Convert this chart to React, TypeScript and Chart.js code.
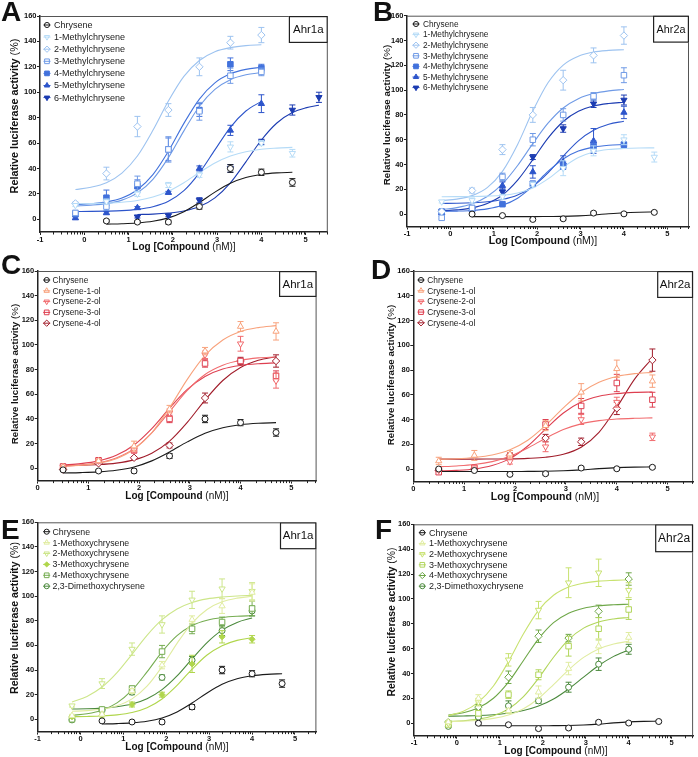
import React, { useEffect, useRef } from 'react';
import { Chart, registerables } from 'chart.js';
import { drawPoint } from 'chart.js/helpers';

Chart.register(...registerables);

const FONT = '"Liberation Sans", Arial, Helvetica, sans-serif';
const _ = null;

// ---------- shared x grids / ticks ----------
const DOSE = [-0.2, 0.5, 1.2, 1.9, 2.6, 3.3, 4.0, 4.7, 5.3];
const FIT_X = [-0.2, 0.15, 0.5, 0.85, 1.2, 1.55, 1.9, 2.25, 2.6, 2.95, 3.3, 3.65, 4.0, 4.35, 4.7, 5.0, 5.3];
const X_TICKS_WIDE = [-1, 0, 1, 2, 3, 4, 5];
const X_TICKS_NARROW = [0, 1, 2, 3, 4, 5];
const Y_TICKS = [0, 20, 40, 60, 80, 100, 120, 140, 160];

// ---------- Chrysene (Ahr1a: A, C, E) ----------
const chr1Y = [_, -1.3, -2.2, -2.2, 10, 40, 37, 29];
const chr1Err = [_, 1, 1, 1.5, 2, 3, 2.5, 3];
const chr1Fit = [_, _, -3.8, -3.5, -2.9, -1.6, 1.1, 6.0, 13.2, 21.4, 28.4, 32.9, 35.3, 36.5, 37.0];
// ---------- Chrysene (Ahr2a: B, D, F) ----------
const chr2Y = [_, 0, -1.2, -4.3, -3.8, 0.8, 0.2, 1.4];
const chr2Err = [_, 0.8, 0.8, 1, 1, 1, 1, 1];
const chr2Fit = [_, _, -2.0, -2.0, -2.0, -2.0, -2.0, -1.9, -1.8, -1.4, -0.7, 0.3, 1.1, 1.5, 1.7];

// ---------- Panel A (methylchrysenes, Ahr1a) ----------
const aM1Y = [11, 14, 20, 27, 35, 57, 60, 52];
const aM1Err = [1, 2, 2, 2, 2, 4, 2, 3];
const aM1Fit = [12.2, 12.3, 12.7, 13.4, 14.8, 17.5, 22.1, 28.8, 36.8, 44.3, 49.8, 53.2, 55.1, 56.0, 56.6];
const aM2Y = [12.5, 36, 73, 86, 120, 139, 145];
const aM2Err = [1, 5, 8, 5, 7, 5, 6];
const aM2Fit = [23.4, 25.2, 28.8, 36.4, 49.8, 70.0, 93.1, 112.5, 125.0, 131.9, 135.1, 136.7, 137.4];
const aM3Y = [5, 10, 28, 55, 85, 113, 116];
const aM3Err = [2, 3, 6, 10, 7, 6, 3];
const aM3Fit = [10.5, 11.1, 12.3, 15.1, 20.8, 31.5, 48.5, 69.6, 89.0, 102.3, 109.9, 113.7, 115.5];
const aM4Y = [4, 17, 26, 55, 86, 122, 119];
const aM4Err = [1, 6, 5, 9, 5, 5, 3];
const aM4Fit = [11.6, 12.2, 13.7, 16.8, 23.3, 35.2, 53.6, 75.5, 94.6, 107.4, 114.5, 118.0, 119.7];
const aM5Y = [1, 5, 9, 21, 40, 70, 91];
const aM5Err = [1, 1, 1, 1, 2, 4, 7];
const aM5Fit = [6.1, 6.2, 6.4, 6.8, 7.8, 9.9, 14.2, 22.5, 36.5, 54.6, 72.4, 85.2, 92.8];
const aM6Y = [_, _, 2, 3, 15, 40, 61, 86, 96];
const aM6Err = [_, _, 1, 1, 2, 3, 2, 4, 4];
const aM6Fit = [_, _, _, _, 3.8, 4.1, 4.9, 6.5, 10.0, 16.9, 28.7, 45.2, 62.4, 75.8, 84.0, 87.7, 89.8];

// ---------- Panel B (methylchrysenes, Ahr2a) ----------
const bM1Y = [10, 11, 14, 24, 37, 51, 60, 46];
const bM1Err = [1, 2, 2, 2, 6, 4, 4, 4];
const bM1Fit = [14.0, 14.1, 14.2, 14.5, 15.2, 17.0, 21.1, 28.4, 37.8, 45.6, 50.1, 52.1, 52.9, 53.3, 53.4];
const bM2Y = [2, 19, 52, 80, 108, 128, 144];
const bM2Err = [1, 2, 4, 6, 8, 6, 7];
const bM2Fit = [10.9, 12.1, 14.9, 21.4, 34.5, 56.2, 83.1, 105.9, 120.2, 127.3, 130.7, 132.0, 132.6];
const bM3Y = [-3, 5, 30, 60, 80, 95, 112];
const bM3Err = [1, 2, 3, 5, 5, 3, 6];
const bM3Fit = [3.6, 5.2, 8.3, 14.2, 24.3, 39.2, 56.8, 73.3, 85.6, 93.1, 97.2, 99.4, 100.5];
const bM4Y = [2, 4, 8, 24.5, 39, 55, 56];
const bM4Err = [1, 1, 1, 2, 3, 4, 2];
const bM4Fit = [2.2, 2.4, 2.9, 4.2, 7.1, 12.8, 22.5, 34.4, 44.5, 50.8, 54.0, 55.5, 56.1];
const bM5Y = [1, 4, 23, 34, 42, 59, 82];
const bM5Err = [1, 1, 3, 5, 5, 10, 5];
const bM5Fit = [8.6, 8.8, 9.2, 10.0, 11.8, 15.4, 22.3, 33.2, 46.7, 59.1, 67.6, 72.5, 74.9];
const bM6Y = [2, 3.5, 18, 46, 69, 89, 92];
const bM6Err = [1, 1, 3, 2, 3, 3, 4];
const bM6Fit = [2.6, 3.4, 5.0, 8.6, 15.4, 27.4, 43.9, 61.3, 74.7, 82.9, 87.2, 89.2, 90.2];

// ---------- Panel C (chrysenols, Ahr1a) ----------
const cO1Y = [_, 1, 6, 18, 48, 95, 115, 111];
const cO1Err = [_, 1, 1, 4, 3, 3, 4, 7];
const cO1Fit = [_, _, 1.6, 2.4, 4.2, 7.8, 15.4, 28.8, 49.0, 72.1, 91.5, 104.0, 110.9, 114.1, 115.7];
const cO2Y = [_, 1, 6, 15, 45, 92, 101, 71];
const cO2Err = [_, 1, 1, 2, 3, 3, 6, 6];
const cO2Fit = [_, _, 1.7, 2.6, 4.4, 8.4, 15.9, 28.8, 46.0, 63.2, 76.1, 83.6, 87.6, 89.5, 90.3];
const cO3Y = [_, 1.5, 6.5, 14.5, 40, 85, 87, 75];
const cO3Err = [_, 1, 1.5, 2, 3, 3, 2, 4];
const cO3Fit = [_, _, 2.8, 3.8, 6.0, 10.5, 18.9, 32.2, 48.8, 64.0, 74.5, 80.5, 83.4, 84.8, 85.5];
const cO4Y = [_, -1, 4, 8.5, 18.5, 57, 87, 87];
const cO4Err = [_, 1, 1, 1, 2, 4, 3, 5];
const cO4Fit = [_, _, 2.2, 2.5, 3.0, 4.2, 6.8, 12.2, 22.0, 37.2, 55.3, 71.2, 81.7, 87.6, 90.5];

// ---------- Panel D (chrysenols, Ahr2a) ----------
const dO1Y = [_, 6.5, 11, 12, 35, 62, 81, 71];
const dO1Err = [_, 3, 4, 3, 4, 7, 7, 5];
const dO1Fit = [_, _, 7.9, 8.3, 9.3, 11.3, 15.5, 23.2, 35.2, 49.4, 61.8, 70.1, 74.8, 77.1, 78.1];
const dO2Y = [_, -1, 1, 6, 18, 40, 54, 26];
const dO2Err = [_, 1, 1, 2, 4, 4, 4, 3];
const dO2Fit = [_, _, 1.9, 2.5, 3.6, 6.0, 10.3, 17.0, 24.9, 31.9, 36.5, 39.1, 40.4, 41.0, 41.3];
const dO3Y = [_, -2.5, 1, 10, 36, 51, 69.5, 56];
const dO3Err = [_, 2, 1, 2, 4, 6, 7, 6];
const dO3Fit = [_, _, -1.6, -1.1, 0.0, 2.8, 8.4, 18.6, 32.3, 45.3, 54.1, 58.8, 60.9, 61.9, 62.2];
const dO4Y = [_, -1, 0, 11, 25, 22, 49, 88];
const dO4Err = [_, 1, 1, 2, 3, 3, 5, 9];
const dO4Fit = [_, _, 8.0, 8.0, 8.0, 8.1, 8.2, 8.6, 9.5, 11.9, 17.6, 29.7, 49.8, 72.6, 89.5];

// ---------- Panel E (methoxychrysenes, Ahr1a) ----------
const eX1Y = [3, 4, 23, 44, 81, 92, 103];
const eX1Err = [1, 1, 2, 3, 3, 6, 7];
const eX1Fit = [6.5, 7.0, 8.3, 11.0, 16.6, 26.9, 42.8, 61.7, 78.2, 89.2, 95.4, 98.4, 99.9];
const eX2Y = [11, 29, 57, 77, 97, 106, 104];
const eX2Err = [1, 4, 5, 7, 7, 8, 7];
const eX2Fit = [14.1, 18.6, 26.2, 37.9, 52.8, 68.2, 80.9, 89.6, 94.9, 97.8, 99.3, 100.2, 100.6];
const eX3Y = [2, 3, 12, 20, 45, 67, 65];
const eX3Err = [1, 1, 2, 2, 7, 5, 3];
const eX3Fit = [2.1, 2.3, 2.7, 3.6, 5.5, 9.4, 16.5, 27.5, 40.7, 52.2, 59.8, 64.1, 66.2];
const eX4Y = [0, 8, 25, 55, 73.5, 79, 90];
const eX4Err = [1, 1, 2, 5, 4, 4, 6];
const eX4Fit = [3.2, 4.5, 7.4, 13.3, 23.6, 38.5, 54.8, 67.9, 76.2, 80.5, 82.7, 83.7, 84.1];
const eX5Y = [-0.5, 7.5, 22, 34, 48, 72, 88];
const eX5Err = [1, 1, 2, 2, 3, 4, 4];
const eX5Fit = [8.3, 8.5, 9.1, 10.2, 12.4, 16.7, 24.1, 35.2, 49.0, 62.3, 72.4, 78.7, 82.3];

// ---------- Panel F (methoxychrysenes, Ahr2a) ----------
const fX1Y = [1, 20, 10, 25, 44, 62, 69];
const fX1Err = [1, 3, 2, 5, 5, 6, 4];
const fX1Fit = [1.3, 1.7, 2.4, 3.9, 6.6, 11.7, 19.9, 31.1, 43.0, 53.0, 59.8, 63.8, 65.9];
const fX2Y = [0, 17, 51, 91, 113, 121, 107];
const fX2Err = [1, 3, 5, 7, 12, 11, 6];
const fX2Fit = [6.1, 9.6, 17.0, 30.0, 49.6, 72.0, 90.8, 102.9, 109.5, 112.7, 114.3, 114.9, 115.3];
const fX3Y = [-1, 8, 23, 39, 62, 76, 91.5];
const fX3Err = [1, 2, 3, 4, 8, 9, 8];
const fX3Fit = [1.5, 2.0, 3.3, 6.0, 11.5, 21.4, 36.2, 53.1, 67.3, 76.5, 81.5, 83.9, 85.1];
const fX4Y = [1, 13, 37, 70, 68.5, 90, 116];
const fX4Err = [1, 2, 5, 5, 3, 5, 5];
const fX4Fit = [6.6, 8.5, 12.4, 20.1, 33.1, 50.5, 67.9, 80.9, 88.5, 92.5, 94.5, 95.3, 95.7];
const fX5Y = [-2.5, 5, 14, 18, 29, 47.5, 59.5];
const fX5Err = [1, 1, 4, 2, 4, 5, 4];
const fX5Fit = [5.7, 5.9, 6.2, 6.9, 8.0, 10.2, 13.8, 19.5, 27.6, 37.1, 46.4, 53.8, 59.0];

// ---------- markers ----------
type Marker = { style: string; rot: number; r: number };
const CIRCLE: Marker = { style: 'circle', rot: 0, r: 3 };
const TRI_UP: Marker = { style: 'triangle', rot: 0, r: 3.6 };
const TRI_DN: Marker = { style: 'triangle', rot: 180, r: 3.6 };
const SQUARE: Marker = { style: 'rect', rot: 0, r: 3.9 };
const DIAMOND: Marker = { style: 'rectRot', rot: 0, r: 3.7 };
const SMALL_DIAMOND: Marker = { style: 'rectRot', rot: 0, r: 3.0 };

type Series = { label: string; color: string; marker: Marker; filled: boolean; y: any[]; err: any[]; fit: any[] };
const BLACK = '#1a1a1a';
const S = (label: string, color: string, marker: Marker, filled: boolean, y: any[], err: any[], fit: any[]): Series =>
  ({ label, color, marker, filled, y, err, fit });

const chrysene1 = S('Chrysene', BLACK, CIRCLE, false, chr1Y, chr1Err, chr1Fit);
const chrysene2 = S('Chrysene', BLACK, CIRCLE, false, chr2Y, chr2Err, chr2Fit);

const BLUES = ['#b5dbf7', '#9dc3f0', '#6f9ae6', '#4272dc', '#2d55cb', '#1c3cb2'];
const REDS = ['#f8a27c', '#f16b6e', '#de3f50', '#a11d2b'];
const GREENS_E = ['#e0eca0', '#cde68a', '#b0d64c', '#76ad52', '#4a893c'];
const GREENS_F = ['#e0eca0', '#c8e270', '#b2d65c', '#6ea748', '#4a893c'];

const seriesA = [
  chrysene1,
  S('1-Methylchrysene', BLUES[0], TRI_DN, false, aM1Y, aM1Err, aM1Fit),
  S('2-Methylchrysene', BLUES[1], DIAMOND, false, aM2Y, aM2Err, aM2Fit),
  S('3-Methylchrysene', BLUES[2], SQUARE, false, aM3Y, aM3Err, aM3Fit),
  S('4-Methylchrysene', BLUES[3], SQUARE, true, aM4Y, aM4Err, aM4Fit),
  S('5-Methylchrysene', BLUES[4], TRI_UP, true, aM5Y, aM5Err, aM5Fit),
  S('6-Methylchrysene', BLUES[5], TRI_DN, true, aM6Y, aM6Err, aM6Fit),
];
const seriesB = [
  chrysene2,
  S('1-Methylchrysene', BLUES[0], TRI_DN, false, bM1Y, bM1Err, bM1Fit),
  S('2-Methylchrysene', BLUES[1], DIAMOND, false, bM2Y, bM2Err, bM2Fit),
  S('3-Methylchrysene', BLUES[2], SQUARE, false, bM3Y, bM3Err, bM3Fit),
  S('4-Methylchrysene', BLUES[3], SQUARE, true, bM4Y, bM4Err, bM4Fit),
  S('5-Methylchrysene', BLUES[4], TRI_UP, true, bM5Y, bM5Err, bM5Fit),
  S('6-Methylchrysene', BLUES[5], TRI_DN, true, bM6Y, bM6Err, bM6Fit),
];
const seriesC = [
  chrysene1,
  S('Crysene-1-ol', REDS[0], TRI_UP, false, cO1Y, cO1Err, cO1Fit),
  S('Crysene-2-ol', REDS[1], TRI_DN, false, cO2Y, cO2Err, cO2Fit),
  S('Crysene-3-ol', REDS[2], SQUARE, false, cO3Y, cO3Err, cO3Fit),
  S('Crysene-4-ol', REDS[3], DIAMOND, false, cO4Y, cO4Err, cO4Fit),
];
const seriesD = [
  chrysene2,
  S('Crysene-1-ol', REDS[0], TRI_UP, false, dO1Y, dO1Err, dO1Fit),
  S('Crysene-2-ol', REDS[1], TRI_DN, false, dO2Y, dO2Err, dO2Fit),
  S('Crysene-3-ol', REDS[2], SQUARE, false, dO3Y, dO3Err, dO3Fit),
  S('Crysene-4-ol', REDS[3], DIAMOND, false, dO4Y, dO4Err, dO4Fit),
];
const seriesE = [
  chrysene1,
  S('1-Methoxychrysene', GREENS_E[0], TRI_UP, false, eX1Y, eX1Err, eX1Fit),
  S('2-Methoxychrysene', GREENS_E[1], TRI_DN, false, eX2Y, eX2Err, eX2Fit),
  S('3-Methoxychrysene', GREENS_E[2], SMALL_DIAMOND, true, eX3Y, eX3Err, eX3Fit),
  S('4-Methoxychrysene', GREENS_E[3], SQUARE, false, eX4Y, eX4Err, eX4Fit),
  S('2,3-Dimethoxychrysene', GREENS_E[4], CIRCLE, false, eX5Y, eX5Err, eX5Fit),
];
const seriesF = [
  chrysene2,
  S('1-Methoxychrysene', GREENS_F[0], TRI_UP, false, fX1Y, fX1Err, fX1Fit),
  S('2-Methoxychrysene', GREENS_F[1], TRI_DN, false, fX2Y, fX2Err, fX2Fit),
  S('3-Methoxychrysene', GREENS_F[2], SQUARE, false, fX3Y, fX3Err, fX3Fit),
  S('4-Methoxychrysene', GREENS_F[3], DIAMOND, false, fX4Y, fX4Err, fX4Fit),
  S('2,3-Dimethoxychrysene', GREENS_F[4], CIRCLE, false, fX5Y, fX5Err, fX5Fit),
];

// ---------- panel layouts ----------
type PanelCfg = {
  left: number; top: number; w: number; h: number;
  plot: { l: number; t: number; r: number; b: number };
  xMin: number; xTicks: number[];
  series: Series[];
  box: string; boxFont: number; boxW: number; boxH: number;
  leg: { sx: number; tx: number; y0: number; dy: number; font: number };
  yTitle: { x: number; y: number; font: number };
  xTitle: { x: number; y: number; font: number };
};

const PANELS: PanelCfg[] = [
  {
    left: 0, top: 0, w: 349, h: 258, plot: { l: 40, t: 16, r: 327.8, b: 232 },
    xMin: -1, xTicks: X_TICKS_WIDE, series: seriesA,
    box: 'Ahr1a', boxFont: 11.5, boxW: 39, boxH: 27,
    leg: { sx: 47, tx: 54, y0: 25, dy: 12.1, font: 9 },
    yTitle: { x: 15, y: 116, font: 10.8 }, xTitle: { x: 184, y: 247.5, font: 10 },
  },
  {
    left: 349, top: 0, w: 349, h: 258, plot: { l: 58, t: 15.7, r: 340, b: 226.5 },
    xMin: -1, xTicks: X_TICKS_WIDE, series: seriesB,
    box: 'Ahr2a', boxFont: 10.8, boxW: 36, boxH: 27,
    leg: { sx: 67, tx: 74, y0: 24, dy: 10.6, font: 8.3 },
    yTitle: { x: 38.3, y: 115, font: 9.8 }, xTitle: { x: 194, y: 241, font: 10.5 },
  },
  {
    left: 0, top: 250, w: 349, h: 258, plot: { l: 37.7, t: 21, r: 316.6, b: 230.6 },
    xMin: 0, xTicks: X_TICKS_NARROW, series: seriesC,
    box: 'Ahr1a', boxFont: 11.5, boxW: 37.6, boxH: 26,
    leg: { sx: 46.7, tx: 52.5, y0: 30, dy: 10.8, font: 8.4 },
    yTitle: { x: 15, y: 124, font: 9.8 }, xTitle: { x: 177, y: 246.5, font: 10 },
  },
  {
    left: 349, top: 250, w: 349, h: 258, plot: { l: 64.3, t: 21, r: 344.2, b: 231.4 },
    xMin: 0, xTicks: X_TICKS_NARROW, series: seriesD,
    box: 'Ahr2a', boxFont: 11.5, boxW: 36, boxH: 27,
    leg: { sx: 72, tx: 78.3, y0: 30, dy: 10.7, font: 8.4 },
    yTitle: { x: 42.7, y: 125, font: 9.8 }, xTitle: { x: 196, y: 246.7, font: 10.5 },
  },
  {
    left: 0, top: 500, w: 349, h: 257, plot: { l: 37.7, t: 22.3, r: 316.4, b: 231.6 },
    xMin: -1, xTicks: X_TICKS_WIDE, series: seriesE,
    box: 'Ahr1a', boxFont: 11.5, boxW: 36.5, boxH: 27,
    leg: { sx: 46.7, tx: 52.5, y0: 31.7, dy: 10.9, font: 8.8 },
    yTitle: { x: 15, y: 118, font: 10.6 }, xTitle: { x: 177, y: 247.5, font: 10 },
  },
  {
    left: 349, top: 500, w: 349, h: 257, plot: { l: 65, t: 24.3, r: 347.8, b: 235.7 },
    xMin: -1, xTicks: X_TICKS_WIDE, series: seriesF,
    box: 'Ahr2a', boxFont: 12, boxW: 38, boxH: 28,
    leg: { sx: 73.3, tx: 80, y0: 32.7, dy: 10.7, font: 9 },
    yTitle: { x: 42.7, y: 122, font: 10.4 }, xTitle: { x: 207, y: 251, font: 10 },
  },
];

const LETTERS = [
  { t: 'A', left: 1, top: -2 },
  { t: 'B', left: 373, top: -2 },
  { t: 'C', left: 1, top: 251 },
  { t: 'D', left: 371, top: 256 },
  { t: 'E', left: 1, top: 516 },
  { t: 'F', left: 375, top: 516 },
];

// ---------- drawing helpers ----------
function drawMixed(ctx: CanvasRenderingContext2D, parts: [string, boolean][], cx: number, cy: number, size: number, rotate: boolean) {
  ctx.save();
  ctx.translate(cx, cy);
  if (rotate) ctx.rotate(-Math.PI / 2);
  let total = 0;
  const widths = parts.map(([t, b]) => {
    ctx.font = `${b ? 'bold ' : ''}${size}px ${FONT}`;
    const w = ctx.measureText(t).width;
    total += w;
    return w;
  });
  let x = -total / 2;
  ctx.fillStyle = '#111';
  ctx.textBaseline = 'middle';
  ctx.textAlign = 'left';
  parts.forEach(([t, b], i) => {
    ctx.font = `${b ? 'bold ' : ''}${size}px ${FONT}`;
    ctx.fillText(t, x, 0);
    x += widths[i];
  });
  ctx.restore();
}

const errorBarPlugin = {
  id: 'errorBars',
  beforeDatasetDraw(chart: any, args: any) {
    const ds = chart.data.datasets[args.index];
    if (!ds.isPoints) return;
    const ctx = chart.ctx;
    const ys = chart.scales.y;
    ctx.save();
    ctx.strokeStyle = ds.pointBorderColor;
    ctx.lineWidth = 1;
    ctx.beginPath();
    ds.data.forEach((p: any, j: number) => {
      const el = args.meta.data[j];
      if (!el || !p.e) return;
      const px = el.x;
      const top = ys.getPixelForValue(p.y + p.e);
      const bot = ys.getPixelForValue(p.y - p.e);
      ctx.moveTo(px, top); ctx.lineTo(px, bot);
      ctx.moveTo(px - 3, top); ctx.lineTo(px + 3, top);
      ctx.moveTo(px - 3, bot); ctx.lineTo(px + 3, bot);
    });
    ctx.stroke();
    ctx.restore();
  },
};

function makeDeco(cfg: PanelCfg) {
  return {
    id: 'deco',
    afterDraw(chart: any) {
      const ctx: CanvasRenderingContext2D = chart.ctx;
      const ca = chart.chartArea;
      const xs = chart.scales.x;
      ctx.save();
      // top & right frame
      ctx.strokeStyle = '#555';
      ctx.lineWidth = 1;
      ctx.beginPath();
      ctx.moveTo(ca.left, ca.top + 0.5);
      ctx.lineTo(ca.right - 0.5, ca.top + 0.5);
      ctx.lineTo(ca.right - 0.5, ca.bottom);
      ctx.stroke();
      // log minor ticks on x axis
      ctx.strokeStyle = '#222';
      ctx.beginPath();
      for (let k = Math.floor(xs.min); k < xs.max; k++) {
        for (let m = 2; m <= 9; m++) {
          const v = k + Math.log10(m);
          if (v > xs.min && v < xs.max) {
            const px = Math.round(xs.getPixelForValue(v)) + 0.5;
            ctx.moveTo(px, ca.bottom);
            ctx.lineTo(px, ca.bottom + 2.5);
          }
        }
      }
      ctx.stroke();
      // receptor box
      const bx = ca.right - cfg.boxW;
      const by = ca.top;
      ctx.fillStyle = '#fff';
      ctx.fillRect(bx, by, cfg.boxW, cfg.boxH);
      ctx.strokeStyle = '#222';
      ctx.lineWidth = 1.2;
      ctx.strokeRect(bx + 0.6, by + 0.6, cfg.boxW - 1.2, cfg.boxH - 1.2);
      ctx.fillStyle = '#111';
      ctx.font = `${cfg.boxFont}px ${FONT}`;
      ctx.textAlign = 'center';
      ctx.textBaseline = 'middle';
      ctx.fillText(cfg.box, bx + cfg.boxW / 2, by + cfg.boxH / 2 + 0.5);
      // legend
      cfg.series.forEach((s, i) => {
        const cy = cfg.leg.y0 + i * cfg.leg.dy;
        ctx.fillStyle = s.filled ? s.color : '#fff';
        ctx.strokeStyle = s.color;
        ctx.lineWidth = 1;
        drawPoint(ctx, { pointStyle: s.marker.style as any, rotation: s.marker.rot, radius: s.marker.r * 0.85, borderWidth: 1 }, cfg.leg.sx, cy);
        ctx.beginPath();
        ctx.moveTo(cfg.leg.sx - 3.5, cy);
        ctx.lineTo(cfg.leg.sx + 3.5, cy);
        ctx.stroke();
        ctx.fillStyle = '#222';
        ctx.font = `${cfg.leg.font}px ${FONT}`;
        ctx.textAlign = 'left';
        ctx.textBaseline = 'middle';
        ctx.fillText(s.label, cfg.leg.tx, cy + 0.5);
      });
      ctx.restore();
      // axis titles
      drawMixed(ctx, [['Relative luciferase activity ', true], ['(%)', false]], cfg.yTitle.x, cfg.yTitle.y, cfg.yTitle.font, true);
      drawMixed(ctx, [['Log [Compound ', true], ['(nM)]', false]], cfg.xTitle.x, cfg.xTitle.y, cfg.xTitle.font, false);
    },
  };
}

function buildConfig(cfg: PanelCfg): any {
  const datasets: any[] = [];
  cfg.series.forEach((s) => {
    datasets.push({
      type: 'line',
      label: s.label + ' fit',
      data: FIT_X.map((x, i) => ({ x, y: s.fit[i] })).filter((p) => p.y != null),
      borderColor: s.color,
      borderWidth: 1.1,
      pointRadius: 0,
      pointHoverRadius: 0,
      fill: false,
      cubicInterpolationMode: 'monotone',
      order: 2,
    });
  });
  cfg.series.forEach((s) => {
    datasets.push({
      type: 'line',
      label: s.label,
      isPoints: true,
      showLine: false,
      data: DOSE.map((x, i) => ({ x, y: s.y[i], e: s.err[i] ?? 0 })).filter((p) => p.y != null),
      pointStyle: s.marker.style,
      pointRotation: s.marker.rot,
      pointRadius: s.marker.r,
      pointHoverRadius: s.marker.r,
      pointBackgroundColor: s.filled ? s.color : '#ffffff',
      pointBorderColor: s.color,
      pointBorderWidth: 1,
      borderColor: s.color,
      order: 1,
    });
  });

  const tickFont = { family: FONT, size: 7.5, weight: 'bold' as const };
  return {
    type: 'line',
    data: { datasets },
    plugins: [errorBarPlugin, makeDeco(cfg)],
    options: {
      responsive: false,
      maintainAspectRatio: false,
      animation: false,
      devicePixelRatio: 1,
      events: [],
      layout: { padding: { left: 0, top: cfg.plot.t, right: cfg.w - cfg.plot.r, bottom: 0 } },
      plugins: { legend: { display: false }, tooltip: { enabled: false } },
      scales: {
        x: {
          type: 'linear',
          min: cfg.xMin,
          max: 5.5,
          afterBuildTicks: (s: any) => { s.ticks = cfg.xTicks.map((v) => ({ value: v })); },
          afterFit: (s: any) => { s.height = cfg.h - cfg.plot.b; },
          ticks: { font: tickFont, color: '#111', padding: 0, maxRotation: 0, autoSkip: false, callback: (v: any) => String(v) },
          grid: { display: true, drawOnChartArea: false, drawTicks: true, tickLength: 3, color: '#222', lineWidth: 1 },
          border: { display: true, color: '#222', width: 1.5 },
        },
        y: {
          type: 'linear',
          min: -10,
          max: 160,
          afterBuildTicks: (s: any) => { s.ticks = Y_TICKS.map((v) => ({ value: v })); },
          afterFit: (s: any) => { s.width = cfg.plot.l; },
          ticks: { font: tickFont, color: '#111', padding: 0.5, autoSkip: false, callback: (v: any) => String(v) },
          grid: { display: true, drawOnChartArea: false, drawTicks: true, tickLength: 3, color: '#222', lineWidth: 1 },
          border: { display: true, color: '#222', width: 1.5 },
        },
      },
    },
  };
}

function Panel({ cfg }: { cfg: PanelCfg }) {
  const ref = useRef<HTMLCanvasElement>(null);
  useEffect(() => {
    if (!ref.current) return;
    const chart = new Chart(ref.current, buildConfig(cfg));
    return () => chart.destroy();
  }, [cfg]);
  return (
    <canvas
      ref={ref}
      width={cfg.w}
      height={cfg.h}
      style={{ position: 'absolute', left: cfg.left, top: cfg.top, width: cfg.w, height: cfg.h }}
    />
  );
}

export default function App() {
  return (
    <div style={{ position: 'absolute', left: 0, top: 0, width: 698, height: 757, background: '#fff', overflow: 'hidden' }}>
      {PANELS.map((p, i) => <Panel key={i} cfg={p} />)}
      {LETTERS.map((l) => (
        <div
          key={l.t}
          style={{ position: 'absolute', left: l.left, top: l.top, font: `bold 28px ${FONT}`, lineHeight: '28px', color: '#111' }}
        >
          {l.t}
        </div>
      ))}
    </div>
  );
}
